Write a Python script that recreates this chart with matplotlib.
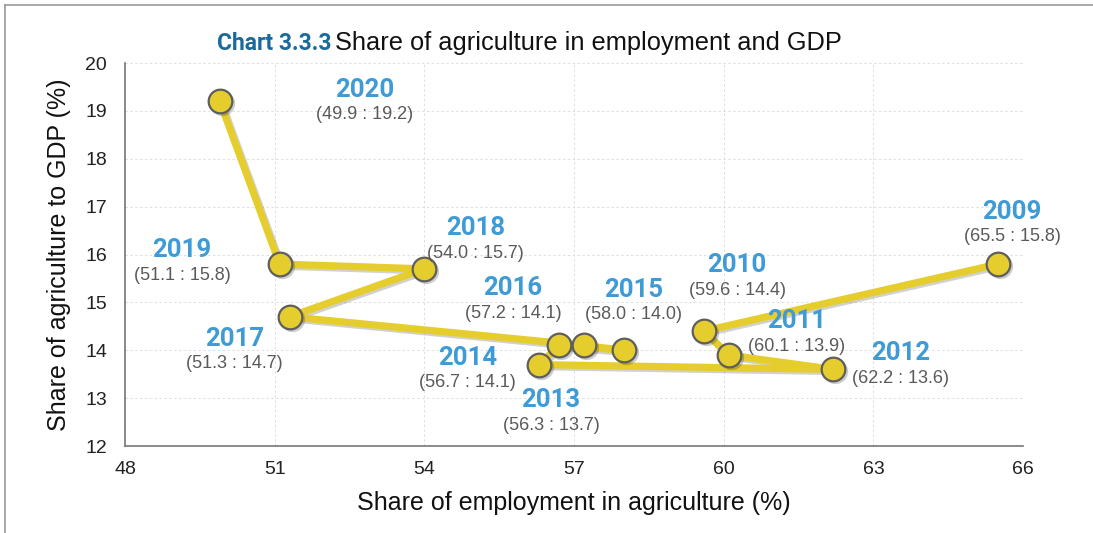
import matplotlib.pyplot as plt
import matplotlib.patheffects as pe
import matplotlib.transforms as mtransforms
from matplotlib.lines import Line2D

plt.rcParams['font.family'] = ['Liberation Sans', 'DejaVu Sans']

# employment share vs. GDP share of agriculture, by year
years = ['2009', '2010', '2011', '2012', '2013', '2014', '2015', '2016', '2017', '2018', '2019', '2020']
employment = [65.5, 59.6, 60.1, 62.2, 56.3, 56.7, 58.0, 57.2, 51.3, 54.0, 51.1, 49.9]
gdp = [15.8, 14.4, 13.9, 13.6, 13.7, 14.1, 14.0, 14.1, 14.7, 15.7, 15.8, 19.2]

# where each year's caption sits (data coords)
label_pos = [(65.78, 16.89), (60.27, 15.78), (61.47, 14.61), (63.55, 13.94),
             (56.54, 12.96), (54.86, 13.84), (58.2, 15.26), (55.78, 15.30),
             (50.20, 14.24), (55.02, 16.55), (49.14, 16.09), (52.81, 19.44)]

yellow = '#E6CD2E'
blue = '#3E9BD6'

fig = plt.figure(figsize=(10.93, 5.33), dpi=100)
ax = fig.add_axes([0.1144, 0.1632, 0.8216, 0.7186])

ax.plot(employment, gdp, color=yellow, lw=5.2, solid_capstyle='round', zorder=3,
        path_effects=[pe.SimpleLineShadow(offset=(1.5, -1.5), alpha=0.18), pe.Normal()])
# marker shadows then markers
shadow = ax.transData + mtransforms.ScaledTranslation(2 / 100, -2 / 100, fig.dpi_scale_trans)
ax.scatter(employment, gdp, s=330, color='#000000', alpha=0.2, zorder=4, linewidths=0, transform=shadow)
ax.scatter(employment, gdp, s=290, color=yellow, edgecolors='#5e5e5e', linewidths=1.6, zorder=5)

for yr, x, y, (lx, ly) in zip(years, employment, gdp, label_pos):
    ax.text(lx, ly, yr, color=blue, fontsize=18.5, fontweight='bold', ha='center', va='center',
            family=['Roboto', 'Liberation Sans'], zorder=6)
    ax.annotate(f'({x:.1f} : {y:.1f})', (lx, ly), xytext=(0, -18), textcoords='offset points',
                color='#5a5a5a', fontsize=13, ha='center', va='center', zorder=6)

ax.set_xlim(48, 66)
ax.set_ylim(12, 20)
ax.set_xticks(range(48, 67, 3))
ax.set_yticks(range(12, 21))
ax.tick_params(axis='x', labelsize=14, length=0, pad=11, labelcolor='#222222')
ax.tick_params(axis='y', labelsize=14, length=0, pad=13, labelcolor='#222222')
ax.grid(True, ls=(0, (2.5, 2.5)), color='#dedede', lw=0.7)
ax.set_axisbelow(True)
for s in ['top', 'right']:
    ax.spines[s].set_visible(False)
for s in ['left', 'bottom']:
    ax.spines[s].set_color('#777777')
    ax.spines[s].set_linewidth(1.2)

ax.set_xlabel('Share of employment in agriculture (%)', fontsize=18, color='#111111', labelpad=9)
ax.set_ylabel('Share of agriculture to GDP (%)', fontsize=18, color='#111111', labelpad=10)

fig.text(0.1985, 0.919, 'Chart 3.3.3', fontsize=16.5, fontweight='bold', color='#1A6A9C',
         family=['Roboto', 'Liberation Sans'], va='center')
fig.text(0.3065, 0.919, 'Share of agriculture in employment and GDP', fontsize=18.3, color='#111111',
         va='center')

# outer frame, top and left edges
fig.add_artist(Line2D([0.0046, 1.0], [0.9915, 0.9915], color='#9a9a9a', lw=1.2))
fig.add_artist(Line2D([0.0046, 0.0046], [0.0, 0.9915], color='#9a9a9a', lw=1.2))

fig.savefig('out.png', dpi=100)
